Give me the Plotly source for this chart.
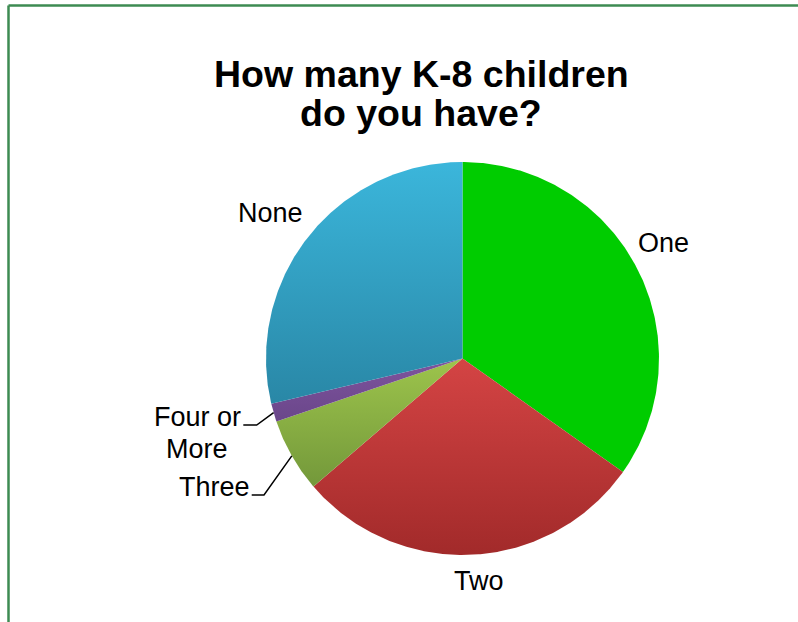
import math
import plotly.graph_objects as go

# Survey answers, in drawing order (clockwise from 12 o'clock)
categories = ["One", "Two", "Three", "Four or More", "None"]
shares = [34.8, 28.9, 6.1, 1.5, 28.7]
# light (top) / dark (bottom) shade per slice
slice_light = ["#00cc00", "#d44444", "#9dc44c", "#7e549e", "#3bb6db"]
slice_dark = ["#00cc00", "#a22a2a", "#73983a", "#6a468a", "#2987a6"]

W, H = 798, 622
CX, CY, R = 462.5, 358.5, 196.5   # pie centre / radius in pixels (from top)


def px(x):
    return x / W


def py(y):
    return 1 - y / H


total = sum(shares)


def slice_angles(idx):
    start = sum(shares[:idx]) / total * 360
    return start, start + shares[idx] / total * 360


def rim(angle_deg):
    a = math.radians(angle_deg)
    return CX + R * math.sin(a), CY - R * math.cos(a)


fig = go.Figure()

# shaded fill of each wedge, built from the same shares (drawn under the pie)
for idx in range(len(shares)):
    a0, a1 = slice_angles(idx)
    n = max(4, int((a1 - a0) * 2))
    xs, ys = [CX], [H - CY]
    for k in range(n + 1):
        x, y = rim(a0 + (a1 - a0) * k / n)
        xs.append(x)
        ys.append(H - y)
    xs.append(CX)
    ys.append(H - CY)
    fig.add_trace(go.Scatter(
        x=xs, y=ys, mode="lines", fill="toself",
        line=dict(width=0, color="rgba(0,0,0,0)"),
        fillgradient=dict(type="vertical",
                          colorscale=[[0, slice_dark[idx]], [1, slice_light[idx]]]),
        hoverinfo="skip", showlegend=False,
    ))

# the pie itself (transparent fill so the shading shows through)
fig.add_trace(
    go.Pie(
        labels=categories,
        values=shares,
        sort=False,
        direction="clockwise",
        rotation=0,
        marker=dict(colors=["rgba(0,0,0,0)"] * len(shares), line=dict(width=0)),
        textinfo="none",
        hoverinfo="label+percent",
        showlegend=False,
        domain=dict(x=[px(CX - R), px(CX + R)], y=[py(CY + R), py(CY - R)]),
    )
)

font_lbl = dict(family="Liberation Sans, Arial, sans-serif", size=27, color="#000000")
font_ttl = dict(family="Liberation Sans, Arial, sans-serif", size=37.5, color="#000000")

annotations = [
    dict(x=px(421), y=py(74), text="<b>How many K-8 children</b>", font=font_ttl),
    dict(x=px(421), y=py(113), text="<b>do you have?</b>", font=font_ttl),
    dict(x=px(663), y=py(243), text="One", font=font_lbl),
    dict(x=px(479), y=py(581), text="Two", font=font_lbl),
    dict(x=px(270), y=py(213), text="None", font=font_lbl),
    dict(x=px(197), y=py(417), text="Four or", font=font_lbl),
    dict(x=px(197), y=py(449), text="More", font=font_lbl),
    dict(x=px(214), y=py(487), text="Three", font=font_lbl),
]
for a in annotations:
    a.update(xref="paper", yref="paper", showarrow=False,
             xanchor="center", yanchor="middle", align="center")

shapes = []
# leader lines: horizontal stub next to the label, then out to the slice rim
for idx, (x0, x1, ly) in {3: (243.3, 256.7, 425), 2: (251.7, 264.0, 495)}.items():
    ex, ey = rim(sum(slice_angles(idx)) / 2)
    shapes.append(dict(type="path", xref="paper", yref="paper",
                       path=f"M {px(x0)},{py(ly)} L {px(x1)},{py(ly)} L {px(ex)},{py(ey)}",
                       line=dict(color="#000000", width=1.5)))

# chart frame (left and top edges visible)
frame = dict(color="#3d8b52", width=2.5)
shapes.append(dict(type="line", xref="paper", yref="paper",
                   x0=px(8.5), y0=py(5.5), x1=px(800), y1=py(5.5), line=frame))
shapes.append(dict(type="line", xref="paper", yref="paper",
                   x0=px(8.5), y0=py(5.5), x1=px(8.5), y1=py(640), line=frame))

fig.update_layout(
    width=W, height=H,
    margin=dict(l=0, r=0, t=0, b=0),
    paper_bgcolor="#ffffff",
    plot_bgcolor="rgba(0,0,0,0)",
    xaxis=dict(range=[0, W], domain=[0, 1], visible=False, fixedrange=True),
    yaxis=dict(range=[0, H], domain=[0, 1], visible=False, fixedrange=True),
    annotations=annotations,
    shapes=shapes,
)

fig.write_html("out.html")
